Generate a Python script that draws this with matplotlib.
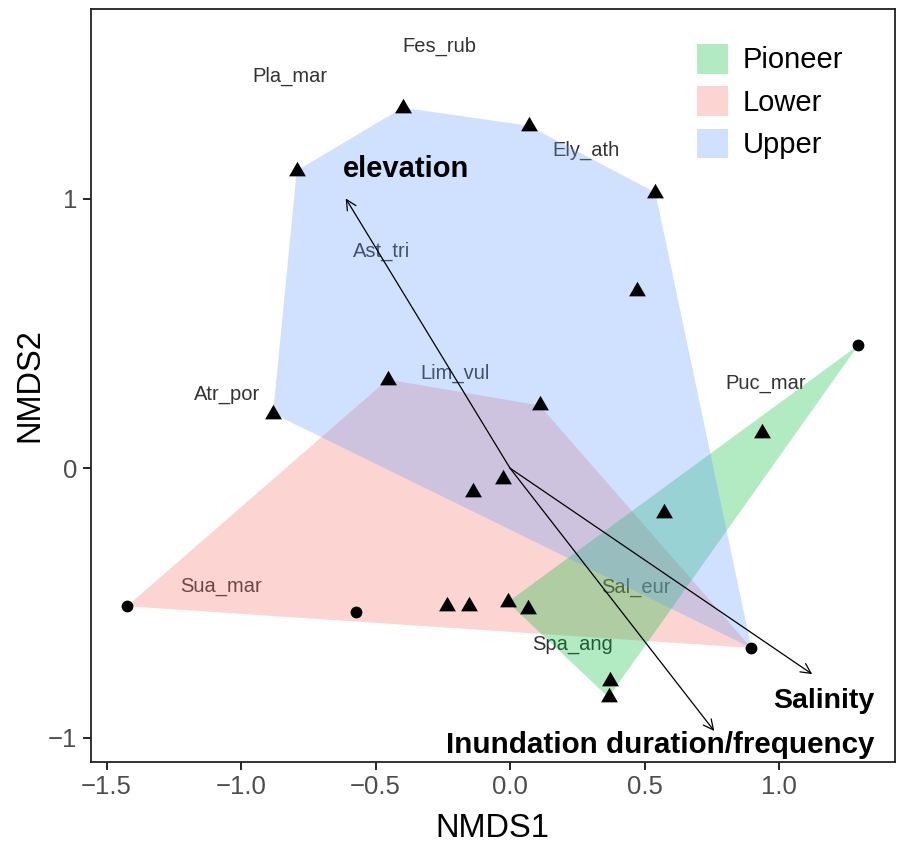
import matplotlib
matplotlib.use("Agg")
import matplotlib.pyplot as plt
from matplotlib.patches import Patch
import numpy as np

plt.rcParams['font.family'] = ['Liberation Sans', 'DejaVu Sans']

# ---------------- data ----------------
# site scores (triangles)
tri_x = [-0.399, 0.069, 0.540, -0.793, 0.470, -0.881, -0.455, 0.110, -0.028,
         -0.139, 0.574, 0.938, -0.236, -0.154, -0.009, 0.065, 0.373, 0.366]
tri_y = [1.338, 1.271, 1.023, 1.104, 0.659, 0.203, 0.329, 0.233, -0.041,
         -0.090, -0.167, 0.129, -0.512, -0.512, -0.497, -0.523, -0.790, -0.850]
# site scores (circles)
cir_x = [-1.424, -0.574, 0.897, 1.294]
cir_y = [-0.512, -0.534, -0.667, 0.456]

# group membership (indices into triangles and circles)
groups = ['Pioneer', 'Lower', 'Upper']
group_tri = {
    'Lower':   [6, 7, 8, 9, 12, 13],
    'Pioneer': [10, 11, 14, 15, 16, 17],
    'Upper':   [0, 1, 2, 3, 4, 5],
}
group_cir = {
    'Lower':   [0, 1, 2],
    'Pioneer': [3],
    'Upper':   [2],
}
group_colors = {'Pioneer': '#00BA38', 'Lower': '#F8766D', 'Upper': '#619CFF'}
draw_order = ['Lower', 'Pioneer', 'Upper']

# species labels
sp_names = ['Fes_rub', 'Pla_mar', 'Ely_ath', 'Ast_tri', 'Lim_vul', 'Atr_por',
            'Puc_mar', 'Sua_mar', 'Sal_eur', 'Spa_ang']
sp_x = [-0.262, -0.819, 0.284, -0.477, -0.206, -1.053, 0.952, -1.075, 0.466, 0.232]
sp_y = [1.565, 1.454, 1.179, 0.805, 0.352, 0.274, 0.315, -0.438, -0.441, -0.653]

# environmental vectors
env_names = ['elevation', 'Salinity', 'Inundation duration/frequency']
env_x = [-0.611, 1.123, 0.759]
env_y = [1.001, -0.764, -0.975]

# ---------------- helpers ----------------
def convex_hull(pts):
    pts = sorted(set(pts))
    if len(pts) <= 2:
        return pts
    def cross(o, a, b):
        return (a[0]-o[0])*(b[1]-o[1]) - (a[1]-o[1])*(b[0]-o[0])
    lower, upper = [], []
    for p in pts:
        while len(lower) >= 2 and cross(lower[-2], lower[-1], p) <= 0:
            lower.pop()
        lower.append(p)
    for p in reversed(pts):
        while len(upper) >= 2 and cross(upper[-2], upper[-1], p) <= 0:
            upper.pop()
        upper.append(p)
    return lower[:-1] + upper[:-1]

# ---------------- figure ----------------
fig = plt.figure(figsize=(8.98, 8.43), dpi=100)
ax = fig.add_axes([0.101, 0.0961, 0.8957, 0.8932])

# species labels (under the hulls)
for n, x, y in zip(sp_names, sp_x, sp_y):
    ax.text(x, y, n, ha='center', va='center', fontsize=14.5, color='#333333', zorder=1)

# hulls
alpha = 0.3
for g in draw_order:
    pts = [(tri_x[i], tri_y[i]) for i in group_tri[g]] + \
          [(cir_x[i], cir_y[i]) for i in group_cir[g]]
    hull = convex_hull(pts)
    hx = [p[0] for p in hull]
    hy = [p[1] for p in hull]
    ax.fill(hx, hy, color=group_colors[g], alpha=alpha, lw=0, zorder=2)

# points
ax.plot(tri_x, tri_y, linestyle='none', marker=(3, 0, 0), markersize=14,
        color='black', markeredgewidth=0, zorder=4)
ax.plot(cir_x, cir_y, linestyle='none', marker='o', markersize=8.5,
        color='black', markeredgewidth=0, zorder=4)

# environmental arrows
for x, y in zip(env_x, env_y):
    ax.annotate('', xy=(x, y), xytext=(0, 0),
                arrowprops=dict(arrowstyle='->,head_length=0.4,head_width=0.2',
                                mutation_scale=18, lw=0.9, color='black',
                                shrinkA=0, shrinkB=0), zorder=3)

ax.text(-0.388, 1.112, env_names[0], ha='center', va='center', fontsize=21,
        fontweight='bold', zorder=5)
ax.text(1.354, -0.862, env_names[1], ha='right', va='center', fontsize=20.5,
        fontweight='bold', zorder=5)
ax.text(1.354, -1.027, env_names[2], ha='right', va='center', fontsize=21.3,
        fontweight='bold', zorder=5)

# axes styling
ax.set_xlim(-1.559, 1.431)
ax.set_ylim(-1.090, 1.704)
ax.set_xticks([-1.5, -1.0, -0.5, 0.0, 0.5, 1.0])
ax.set_xticklabels(['\u22121.5', '\u22121.0', '\u22120.5', '0.0', '0.5', '1.0'])
ax.set_yticks([-1, 0, 1])
ax.set_yticklabels(['\u22121', '0', '1'])
ax.tick_params(axis='both', length=6, width=1.2, colors='black', labelsize=18.5,
               labelcolor='#4d4d4d', pad=3.5)
for s in ax.spines.values():
    s.set_linewidth(1.3)
    s.set_color('#222222')
ax.set_xlabel('NMDS1', fontsize=23.5, labelpad=10)
ax.set_ylabel('NMDS2', fontsize=23.5, labelpad=2)

# legend
handles = [Patch(facecolor=group_colors[g], alpha=alpha, edgecolor='none', label=g)
           for g in groups]
ax.legend(handles=handles, loc='upper left', bbox_to_anchor=(0.754, 0.954),
          frameon=False, fontsize=21, handlelength=1.06, handleheight=1.2,
          labelspacing=0.4, handletextpad=0.5, borderaxespad=0, borderpad=0)

fig.savefig('out.png', dpi=100)
